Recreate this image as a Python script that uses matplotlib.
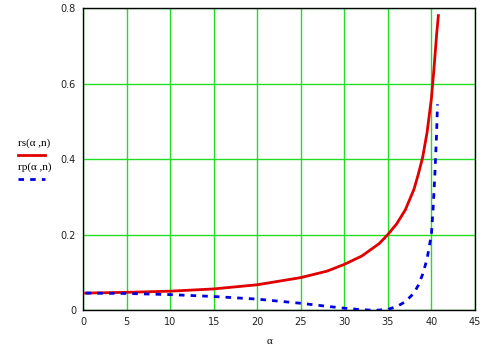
import matplotlib
matplotlib.use("Agg")
from matplotlib import pyplot as plt
from matplotlib.lines import Line2D

# values
alpha_s = [0.3, 5, 10, 15, 20, 25, 28, 30, 32, 34, 35, 36, 37, 38, 38.5, 39, 39.5, 40, 40.3, 40.6, 40.8]
rs = [0.045, 0.047, 0.050, 0.056, 0.067, 0.086, 0.103, 0.121, 0.143, 0.176, 0.200, 0.228, 0.265, 0.320, 0.360, 0.405, 0.470, 0.560, 0.640, 0.730, 0.780]

alpha_p = [0.3, 5, 10, 15, 20, 25, 28, 30, 32, 33, 34, 35, 36, 37, 38, 38.5, 39, 39.5, 40, 40.2, 40.4, 40.6, 40.7]
rp = [0.045, 0.044, 0.041, 0.036, 0.029, 0.018, 0.010, 0.005, 0.001, 0.0, 0.0, 0.002, 0.009, 0.022, 0.045, 0.066, 0.095, 0.135, 0.200, 0.270, 0.360, 0.470, 0.545]

xticks = [0, 5, 10, 15, 20, 25, 30, 35, 40, 45]
yticks = [0, 0.2, 0.4, 0.6, 0.8]
yticklabels = ["0", "0.2", "0.4", "0.6", "0.8"]

fig = plt.figure(figsize=(4.98, 3.56), dpi=100)
ax = fig.add_axes([0.1667, 0.129, 0.787, 0.8485])

ax.plot(alpha_s, rs, color="#e00000", lw=2, zorder=3)
ax.plot(alpha_p, rp, color="#0000e0", lw=2, ls=(0, (2, 2.2)), zorder=3)

ax.set_xlim(0, 45)
ax.set_ylim(0, 0.8)
ax.set_xticks(xticks)
ax.set_yticks(yticks)
ax.set_yticklabels(yticklabels)
ax.grid(True, color="#22dd22", lw=1)
ax.tick_params(length=0, labelsize=7, pad=5, colors="#222222")
for s in ax.spines.values():
    s.set_color("black")
    s.set_linewidth(1)

fig.text(0.542, 0.04, "α", ha="center", va="center", fontsize=8, family="Liberation Serif")

# legend to the left of the plot, Mathcad style
fig.text(0.037, 0.598, "rs(α ,n)", fontsize=8, family="Liberation Serif", va="center")
fig.add_artist(Line2D([0.036, 0.091], [0.565, 0.565], color="#e00000", lw=2))
fig.text(0.037, 0.53, "rp(α ,n)", fontsize=8, family="Liberation Serif", va="center")
fig.add_artist(Line2D([0.036, 0.091], [0.496, 0.496], color="#0000e0", lw=2, ls=(0, (2, 2.2))))

fig.savefig("out.png", dpi=100)
